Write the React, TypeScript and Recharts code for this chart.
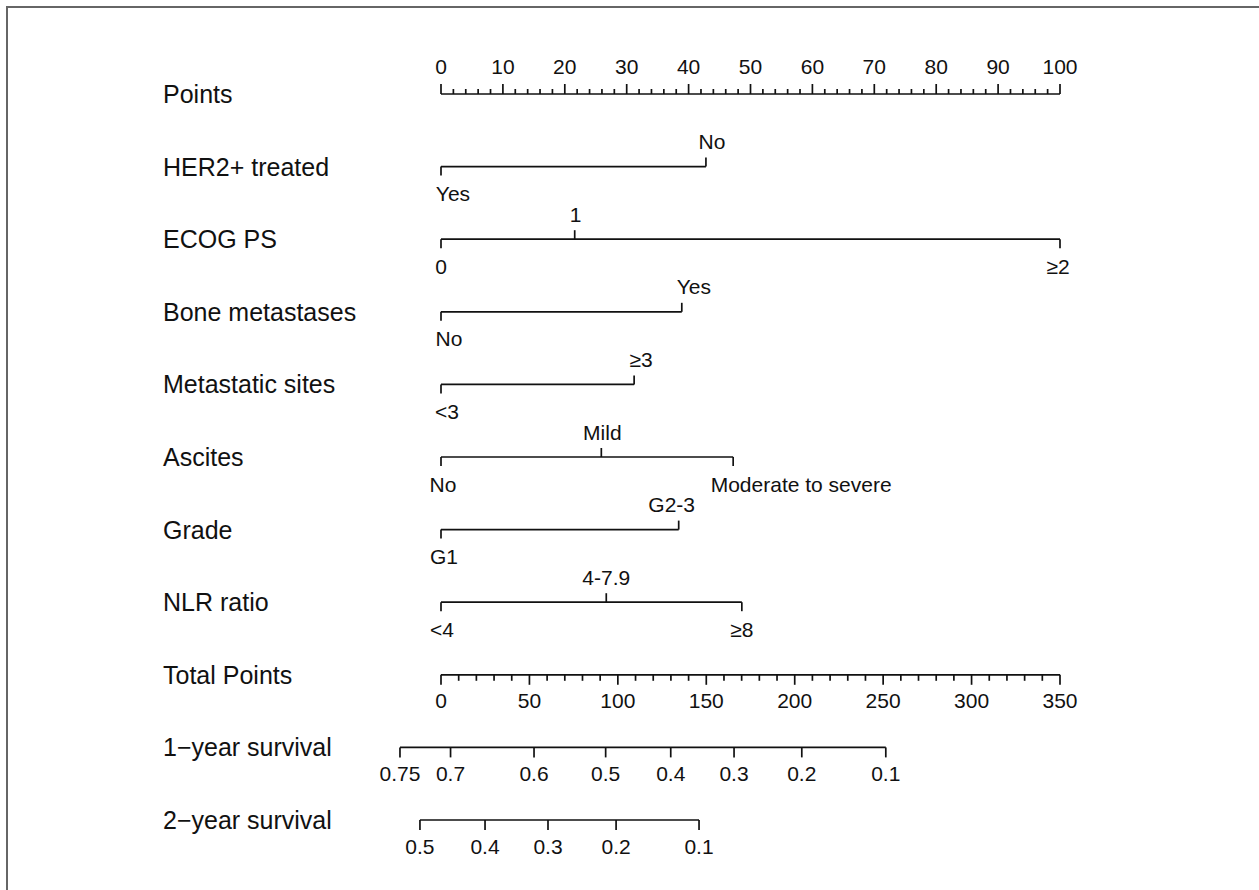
import React from "react"
import { ScatterChart, Scatter, XAxis, YAxis } from "recharts"

// row names, top to bottom
const rowNames = [
  "Points",
  "HER2+ treated",
  "ECOG PS",
  "Bone metastases",
  "Metastatic sites",
  "Ascites",
  "Grade",
  "NLR ratio",
  "Total Points",
  "1\u2212year survival",
  "2\u2212year survival",
]

// points scale (0-100)
const pointsMajor = [0, 10, 20, 30, 40, 50, 60, 70, 80, 90, 100]
const pointsMinorStep = 2

// predictors: level labels and their points
const her2Levels = ["Yes", "No"]
const her2Points = [0, 42.8]
const ecogLevels = ["0", "1", "\u22652"]
const ecogPoints = [0, 21.6, 100]
const boneLevels = ["No", "Yes"]
const bonePoints = [0, 38.9]
const sitesLevels = ["<3", "\u22653"]
const sitesPoints = [0, 31.2]
const ascitesLevels = ["No", "Mild", "Moderate to severe"]
const ascitesPoints = [0, 25.9, 47.2]
const gradeLevels = ["G1", "G2-3"]
const gradePoints = [0, 38.4]
const nlrLevels = ["<4", "4-7.9", "\u22658"]
const nlrPoints = [0, 26.7, 48.6]

// total points scale (0-350)
const totalMajor = [0, 50, 100, 150, 200, 250, 300, 350]
const totalMinorStep = 10
const totalMax = 350

// survival probabilities and the total points they sit at
const surv1Labels = ["0.75", "0.7", "0.6", "0.5", "0.4", "0.3", "0.2", "0.1"]
const surv1Total = [-23.2, 5.4, 52.6, 93.1, 129.9, 165.7, 204, 251.5]
const surv2Labels = ["0.5", "0.4", "0.3", "0.2", "0.1"]
const surv2Total = [-11.9, 24.9, 60.5, 99, 145.9]

// ---- layout ----
const W = 1251
const H = 882
const ZERO_X = 433 // svg x of 0 points
const PX_PER_POINT = 6.19
const ROW0_Y = 86
const ROW_GAP = 72.6
const LABEL_X = 155
const INK = "#111"
const FONT = "'Liberation Sans', Arial, sans-serif"
const ROW_FONT = 25
const TICK_FONT = 21

const X_DOMAIN = [-ZERO_X / PX_PER_POINT, (W - ZERO_X) / PX_PER_POINT]
const Y_DOMAIN = [-ROW0_Y / ROW_GAP, (H - ROW0_Y) / ROW_GAP]

// small horizontal nudges of level labels (px), per predictor row
const levelNudge: Record<number, number[]> = {
  1: [12, 6],
  2: [0, 1, -2],
  3: [8, 12],
  4: [6, 7],
  5: [2, 1, 68],
  6: [3, -7],
  7: [1, 0, 0],
}

type Tick = { x: number; y: number; label: string; dir: number; len: number; gap: number; nudge: number }

const scaleRow = (row: number, major: number[], minorStep: number, factor: number, dir: number, majLen: number, minLen: number): Tick[] => {
  const out: Tick[] = []
  const max = major[major.length - 1]
  for (let v = 0; v <= max + 1e-9; v += minorStep) {
    const isMajor = major.includes(v)
    out.push({ x: v * factor, y: row, label: isMajor ? String(v) : "", dir, len: isMajor ? majLen : minLen, gap: dir < 0 ? 28 : 26, nudge: 0 })
  }
  return out
}

const factorRow = (row: number, levels: string[], pts: number[]): Tick[] =>
  levels
    .map((l, i) => {
      const dir = i % 2 === 0 ? 1 : -1
      return { x: pts[i], y: row, label: l, dir, len: 9, gap: dir < 0 ? 25 : 27, nudge: (levelNudge[row] || [])[i] || 0 }
    })
    .sort((a, b) => a.x - b.x)

const survRow = (row: number, labels: string[], total: number[]): Tick[] =>
  labels
    .map((l, i) => ({ x: (total[i] * 100) / totalMax, y: row, label: l, dir: 1, len: 10, gap: 26, nudge: 0 }))
    .sort((a, b) => a.x - b.x)

const rows: Tick[][] = [
  scaleRow(0, pointsMajor, pointsMinorStep, 1, -1, 10, 5),
  factorRow(1, her2Levels, her2Points),
  factorRow(2, ecogLevels, ecogPoints),
  factorRow(3, boneLevels, bonePoints),
  factorRow(4, sitesLevels, sitesPoints),
  factorRow(5, ascitesLevels, ascitesPoints),
  factorRow(6, gradeLevels, gradePoints),
  factorRow(7, nlrLevels, nlrPoints),
  scaleRow(8, totalMajor, totalMinorStep, 100 / totalMax, 1, 10, 6),
  survRow(9, surv1Labels, surv1Total),
  survRow(10, surv2Labels, surv2Total),
]

const labelData = rowNames.map((name, i) => ({ x: 0, y: i, name }))

const TickMark = (props: any) => {
  const { cx, cy, payload } = props
  if (cx == null || cy == null) return null
  const ty = cy + payload.dir * payload.gap
  return (
    <g>
      <line x1={cx} y1={cy} x2={cx} y2={cy + payload.dir * payload.len} stroke={INK} strokeWidth={1.7} />
      {payload.label ? (
        <text
          x={cx + payload.nudge}
          y={ty}
          textAnchor="middle"
          dominantBaseline="central"
          fontSize={TICK_FONT}
          fontFamily={FONT}
          fill={INK}
        >
          {payload.label}
        </text>
      ) : null}
    </g>
  )
}

// row names sit at a fixed left margin, at the row's y from the scale
const RowLabel = (props: any) => {
  const { cy, payload } = props
  if (cy == null) return null
  return (
    <text x={LABEL_X} y={cy} textAnchor="start" dominantBaseline="central" fontSize={ROW_FONT} fontFamily={FONT} fill={INK}>
      {payload.name}
    </text>
  )
}

export default function App() {
  return (
    <div
      style={{
        position: "absolute",
        left: 6,
        top: 6,
        width: W + 2,
        height: H + 2,
        borderTop: "2px solid #666",
        borderLeft: "2px solid #666",
        boxSizing: "border-box",
        background: "#fff",
      }}
    >
      <ScatterChart width={W} height={H} margin={{ top: 0, right: 0, bottom: 0, left: 0 }}>
        <XAxis type="number" dataKey="x" domain={X_DOMAIN} allowDataOverflow hide />
        <YAxis type="number" dataKey="y" domain={Y_DOMAIN} allowDataOverflow reversed hide />
        <Scatter data={labelData} shape={<RowLabel />} isAnimationActive={false} />
        {rows.map((data, i) => (
          <Scatter
            key={i}
            data={data}
            line={{ stroke: INK, strokeWidth: 1.7 }}
            lineType="joint"
            shape={<TickMark />}
            isAnimationActive={false}
          />
        ))}
      </ScatterChart>
    </div>
  )
}
